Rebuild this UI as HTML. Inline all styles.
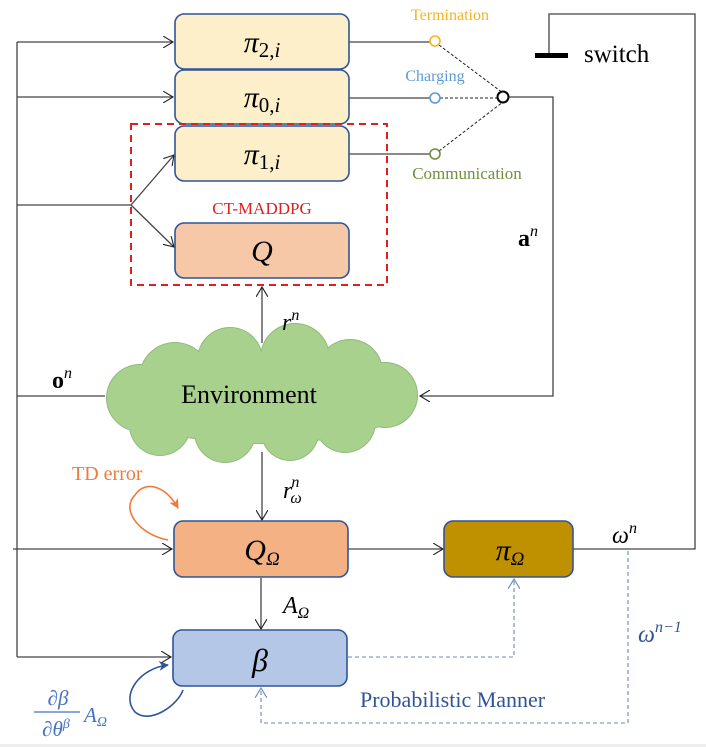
<!DOCTYPE html>
<html><head><meta charset="utf-8"><style>
html,body{margin:0;padding:0;background:#fff;}
svg{display:block;}
text{font-family:"Liberation Serif",serif;}
.m{font-style:italic;}
</style></head><body>
<svg width="706" height="747" viewBox="0 0 706 747" xmlns="http://www.w3.org/2000/svg">
<defs>
<marker id="a" markerWidth="12" markerHeight="12" refX="10" refY="6" orient="auto" markerUnits="userSpaceOnUse"><path d="M0,0 L10,6 L0,12" fill="none" stroke="#222" stroke-width="1.1"/></marker>
<marker id="ad" markerWidth="12" markerHeight="12" refX="10" refY="6" orient="auto" markerUnits="userSpaceOnUse"><path d="M0,0 L10,6 L0,12" fill="none" stroke="#6a8ab5" stroke-width="1.1"/></marker>
<marker id="ao" markerWidth="12" markerHeight="12" refX="9" refY="6" orient="auto" markerUnits="userSpaceOnUse"><path d="M0,1 L10,6 L0,11 L3,6z" fill="#f07a3a"/></marker>
<marker id="ab" markerWidth="12" markerHeight="12" refX="9" refY="6" orient="auto" markerUnits="userSpaceOnUse"><path d="M0,1 L10,6 L0,11 L3,6z" fill="#2f5597"/></marker>
</defs>
<g stroke="#444" stroke-width="1.3" fill="none">
<path d="M17,42 V657"/>
<path d="M17,42 H173" marker-end="url(#a)"/>
<path d="M17,97 H173" marker-end="url(#a)"/>
<path d="M17,205 H131 L174,155" marker-end="url(#a)"/>
<path d="M131,205 L174,247" marker-end="url(#a)"/>
<path d="M17,396 H105"/>
<path d="M13,549 H172" marker-end="url(#a)"/>
<path d="M17,657 H171" marker-end="url(#a)"/>
<path d="M349,42 H430"/>
<path d="M349,98 H430"/>
<path d="M349,154 H430"/>
<path d="M508,97 H553 V396 H420" marker-end="url(#a)"/>
<path d="M262,343 V287" marker-end="url(#a)"/>
<path d="M262,452 V520" marker-end="url(#a)"/>
<path d="M261,578 V629" marker-end="url(#a)"/>
<path d="M348,549 H443" marker-end="url(#a)"/>
<path d="M573,549 H695 V14 H549 V56"/>
</g>
<rect x="535" y="53" width="33" height="5" fill="#000"/>
<g stroke="#222" stroke-width="1" stroke-dasharray="3,2" fill="none">
<path d="M439,45 L503,93"/>
<path d="M440,98 H497"/>
<path d="M439,151 L503,102"/>
</g>
<circle cx="435" cy="41" r="5" fill="#fff" stroke="#f5b320" stroke-width="1.6"/>
<circle cx="435" cy="98" r="5" fill="#fff" stroke="#5b9bd5" stroke-width="1.6"/>
<circle cx="435" cy="154" r="5" fill="#fff" stroke="#70913e" stroke-width="1.6"/>
<circle cx="503" cy="97" r="5.5" fill="#fff" stroke="#000" stroke-width="2"/>
<g stroke="#6a8ab5" stroke-width="1.1" stroke-dasharray="4,3" fill="none">
<path d="M348,657 H514 V579" marker-end="url(#ad)"/>
<path d="M628,551 V723 H261 V688" marker-end="url(#ad)"/>
</g>
<g stroke="#2f5597" stroke-width="1.6">
<rect x="175" y="14" width="174" height="55" rx="9" fill="#fdefc9"/>
<rect x="175" y="70" width="174" height="54" rx="9" fill="#fdefc9"/>
<rect x="175" y="126" width="174" height="55" rx="9" fill="#fdefc9"/>
<rect x="175" y="223" width="174" height="55" rx="9" fill="#f7c8a8"/>
<rect x="174" y="521" width="174" height="56" rx="9" fill="#f4b183"/>
<rect x="444" y="521" width="129" height="56" rx="9" fill="#bf9000"/>
<rect x="173" y="630" width="174" height="56" rx="9" fill="#b4c7e7"/>
</g>
<rect x="131" y="124" width="256" height="161" fill="none" stroke="#e02020" stroke-width="2" stroke-dasharray="7,5"/>
<!-- cloud -->
<g fill="#8fba78">
<ellipse cx="262" cy="398" rx="151" ry="46"/>
<circle cx="175" cy="378" r="36"/><circle cx="230" cy="360" r="33"/><circle cx="295" cy="358" r="35"/><circle cx="350" cy="372" r="33"/>
<circle cx="385" cy="395" r="33"/><circle cx="140" cy="398" r="34"/><circle cx="160" cy="425" r="31"/><circle cx="225" cy="432" r="31"/>
<circle cx="290" cy="432" r="29"/><circle cx="345" cy="422" r="31"/>
</g>
<g fill="#a9d18e">
<ellipse cx="262" cy="398" rx="150" ry="45"/>
<circle cx="175" cy="378" r="35"/><circle cx="230" cy="360" r="32"/><circle cx="295" cy="358" r="34"/><circle cx="350" cy="372" r="32"/>
<circle cx="385" cy="395" r="32"/><circle cx="140" cy="398" r="33"/><circle cx="160" cy="425" r="30"/><circle cx="225" cy="432" r="30"/>
<circle cx="290" cy="432" r="28"/><circle cx="345" cy="422" r="30"/>
</g>
<text x="262" y="52" font-size="30" text-anchor="middle" class="m">π<tspan font-size="21" font-style="normal" dy="5">2,</tspan><tspan font-size="21">i</tspan></text>
<text x="262" y="107" font-size="30" text-anchor="middle" class="m">π<tspan font-size="21" font-style="normal" dy="5">0,</tspan><tspan font-size="21">i</tspan></text>
<text x="262" y="164" font-size="30" text-anchor="middle" class="m">π<tspan font-size="21" font-style="normal" dy="5">1,</tspan><tspan font-size="21">i</tspan></text>
<text x="262" y="261" font-size="30" text-anchor="middle" class="m">Q</text>
<text x="262" y="214" font-size="17" text-anchor="middle" fill="#e02020">CT-MADDPG</text>
<text x="450" y="20" font-size="16" text-anchor="middle" fill="#f5b320">Termination</text>
<text x="435" y="81" font-size="16" text-anchor="middle" fill="#5b9bd5">Charging</text>
<text x="467" y="179" font-size="17" text-anchor="middle" fill="#70913e">Communication</text>
<text x="584" y="62" font-size="25" font-family="Liberation Sans,sans-serif">switch</text>
<text x="518" y="246" font-size="24" font-weight="bold">a<tspan font-size="16" font-weight="normal" font-style="italic" dy="-10">n</tspan></text>
<text x="52" y="388" font-size="24" font-weight="bold">o<tspan font-size="16" font-weight="normal" font-style="italic" dy="-10">n</tspan></text>
<text x="282" y="330" font-size="24" class="m">r<tspan font-size="16" dy="-10">n</tspan></text>
<text x="249" y="403" font-size="26" text-anchor="middle">Environment</text>
<text x="283" y="498" font-size="24" class="m">r<tspan font-size="16" dx="-1" dy="-11">n</tspan><tspan font-size="16" dx="-9" dy="16">ω</tspan></text>
<text x="72" y="480" font-size="20" fill="#f07a3a">TD error</text>
<path d="M168,540 C140,535 120,510 135,495 C145,480 165,485 178,508" fill="none" stroke="#f07a3a" stroke-width="1.6" marker-end="url(#ao)"/>
<text x="262" y="560" font-size="30" text-anchor="middle" class="m">Q<tspan font-size="19" dy="5">Ω</tspan></text>
<text x="510" y="560" font-size="30" text-anchor="middle" class="m">π<tspan font-size="19" dy="5">Ω</tspan></text>
<text x="283" y="613" font-size="24" class="m">A<tspan font-size="16" dy="5">Ω</tspan></text>
<text x="260" y="671" font-size="32" text-anchor="middle" class="m">β</text>
<text x="612" y="543" font-size="24" class="m">ω<tspan font-size="16" dy="-10">n</tspan></text>
<text x="638" y="642" font-size="24" class="m" fill="#2f5597">ω<tspan font-size="16" dy="-10">n−1</tspan></text>
<text x="360" y="707" font-size="22" fill="#2f5597">Probabilistic Manner</text>
<path d="M183,690 C178,705 150,725 135,712 C120,695 140,668 168,665" fill="none" stroke="#2f5597" stroke-width="1.6" marker-end="url(#ab)"/>
<text x="58" y="705" font-size="21" text-anchor="middle" class="m" fill="#4472c4">∂β</text>
<line x1="34" y1="712" x2="80" y2="712" stroke="#4472c4" stroke-width="1.2"/>
<text x="56" y="736" font-size="21" text-anchor="middle" class="m" fill="#4472c4">∂θ<tspan font-size="14" dy="-8">β</tspan></text>
<text x="84" y="722" font-size="21" class="m" fill="#4472c4">A<tspan font-size="14" dy="4">Ω</tspan></text>
<rect x="0" y="744" width="706" height="3" fill="#eee"/>
</svg>
</body></html>
